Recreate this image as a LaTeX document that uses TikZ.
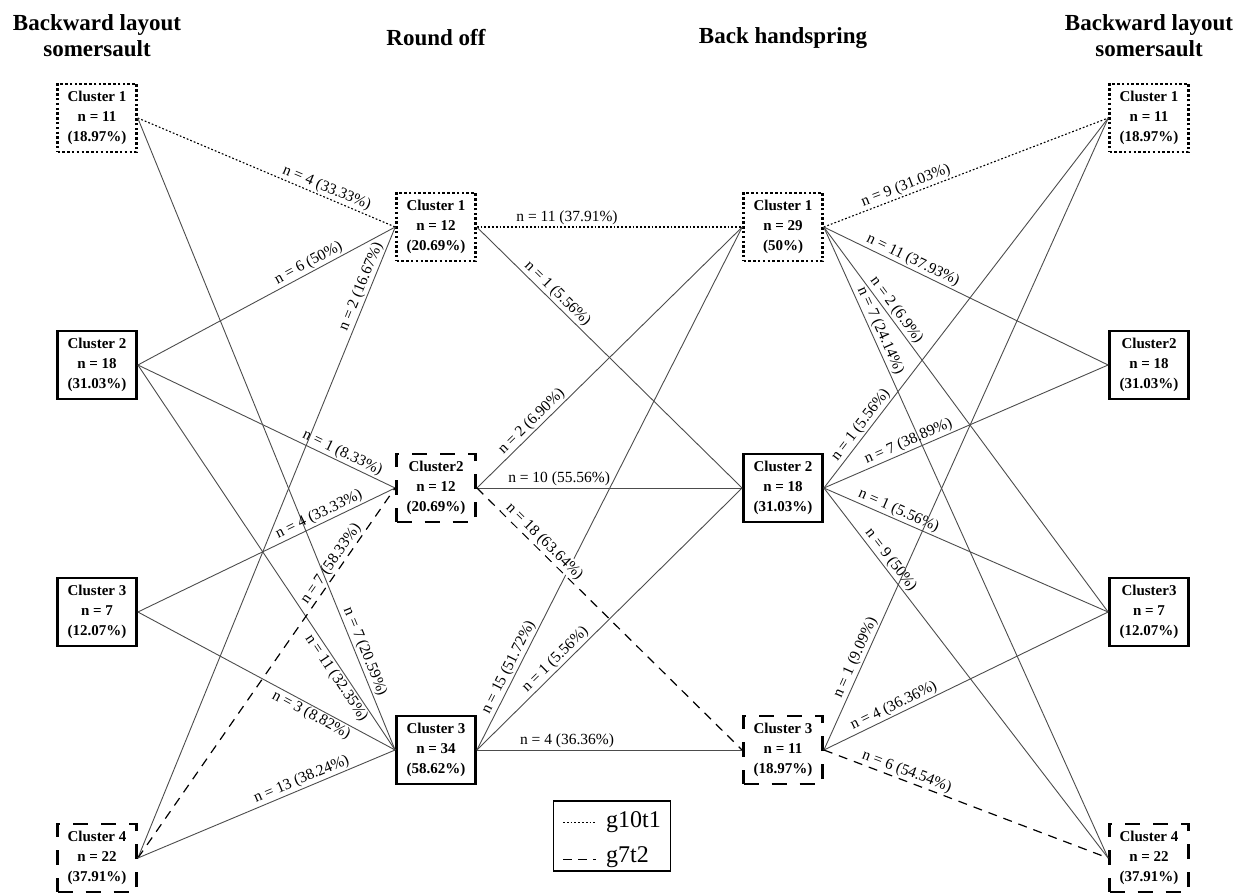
\documentclass[tikz,border=0pt]{standalone}
\usepackage{fontspec}
\setmainfont{Liberation Serif}
\usepackage{tikz}

\begin{document}
\begin{tikzpicture}[x=1pt,y=-1pt,
    clus/.style={draw,line width=2.8pt,minimum width=79pt,minimum height=68pt,inner sep=0pt,align=center,
        font=\fontsize{15}{20}\selectfont\bfseries},
    dotbox/.style={clus,line width=2.5pt,dash pattern=on 2.5pt off 2.3pt},
    dashbox/.style={clus,dash pattern=on 15pt off 13pt},
    link/.style={draw=black!70,line width=0.9pt},
    dotlink/.style={draw=black,line width=1.1pt,dash pattern=on 1.8pt off 2pt},
    dashlink/.style={draw=black,line width=1.2pt,dash pattern=on 9pt off 7pt},
    lbl/.style={sloped,above,inner sep=1.5pt,font=\fontsize{15.5}{18}\selectfont},
    lblb/.style={lbl,below},
    head/.style={align=center,font=\fontsize{23}{26}\selectfont\bfseries}]
    \useasboundingbox (0,0) rectangle (1238,893);

    \node[head] (hA) at (97,36) {Backward layout\\somersault};
    \node[head] (hB) at (436,38) {Round off};
    \node[head] (hC) at (783,38) {Back handspring};
    \node[head] (hD) at (1149,36) {Backward layout\\somersault};

    \node[dotbox] (a1) at (97,118) {Cluster 1\\n = 11\\(18.97\%)};
    \node[clus] (a2) at (97,365) {Cluster 2\\n = 18\\(31.03\%)};
    \node[clus] (a3) at (97,612) {Cluster 3\\n = 7\\(12.07\%)};
    \node[dashbox] (a4) at (97,858) {Cluster 4\\n = 22\\(37.91\%)};

    \node[dotbox] (b1) at (436,227) {Cluster 1\\n = 12\\(20.69\%)};
    \node[dashbox] (b2) at (436,488) {Cluster2\\n = 12\\(20.69\%)};
    \node[clus] (b3) at (436,750) {Cluster 3\\n = 34\\(58.62\%)};

    \node[dotbox] (c1) at (783,227) {Cluster 1\\n = 29\\(50\%)};
    \node[clus] (c2) at (783,488) {Cluster 2\\n = 18\\(31.03\%)};
    \node[dashbox] (c3) at (783,750) {Cluster 3\\n = 11\\(18.97\%)};

    \node[dotbox] (d1) at (1149,118) {Cluster 1\\n = 11\\(18.97\%)};
    \node[clus] (d2) at (1149,365) {Cluster2\\n = 18\\(31.03\%)};
    \node[clus] (d3) at (1149,612) {Cluster3\\n = 7\\(12.07\%)};
    \node[dashbox] (d4) at (1149,858) {Cluster 4\\n = 22\\(37.91\%)};

    \draw[dotlink] (a1.east) -- node[lbl,pos=0.72] {n = 4 (33.33\%)} (b1.west);
    \draw[link] (a1.east) -- node[lbl,pos=0.85] {n = 7 (20.59\%)} (b3.west);
    \draw[link] (a2.east) -- node[lbl,pos=0.68] {n = 6 (50\%)} (b1.west);
    \draw[link] (a2.east) -- node[lbl,pos=0.78] {n = 1 (8.33\%)} (b2.west);
    \draw[link] (a2.east) -- node[lblb,pos=0.80] {n = 11 (32.35\%)} (b3.west);
    \draw[link] (a3.east) -- node[lbl,pos=0.72] {n = 4 (33.33\%)} (b2.west);
    \draw[link] (a3.east) -- node[lblb,pos=0.69] {n = 3 (8.82\%)} (b3.west);
    \draw[link] (a4.east) -- node[lbl,pos=0.90] {n = 2 (16.67\%)} (b1.west);
    \draw[dashlink] (a4.east) -- node[lbl,pos=0.78] {n = 7 (58.33\%)} (b2.west);
    \draw[link] (a4.east) -- node[lbl,pos=0.65] {n = 13 (38.24\%)} (b3.west);

    \draw[link] (b3.east) -- node[lbl,pos=0.15] {n = 15 (51.72\%)} (c1.west);
    \draw[dotlink] (b1.east) -- node[lbl,pos=0.34] {n = 11 (37.91\%)} (c1.west);
    \draw[link] (b1.east) -- node[lbl,pos=0.28] {n = 1 (5.56\%)} (c2.west);
    \draw[link] (b2.east) -- node[lbl,pos=0.23] {n = 2 (6.90\%)} (c1.west);
    \draw[link] (b2.east) -- node[lbl,pos=0.31] {n = 10 (55.56\%)} (c2.west);
    \draw[dashlink] (b2.east) -- node[lbl,pos=0.23,fill=white] {n = 18 (63.64\%)} (c3.west);
    \draw[link] (b3.east) -- node[lbl,pos=0.32] {n = 1 (5.56\%)} (c2.west);
    \draw[link] (b3.east) -- node[lbl,pos=0.34] {n = 4 (36.36\%)} (c3.west);

    \draw[dotlink] (c1.east) -- node[lbl,pos=0.30] {n = 9 (31.03\%)} (d1.west);
    \draw[link] (c1.east) -- node[lbl,pos=0.30] {n = 11 (37.93\%)} (d2.west);
    \draw[link] (c1.east) -- node[lbl,pos=0.23] {n = 2 (6.9\%)} (d3.west);
    \draw[link] (c1.east) -- node[lbl,pos=0.17] {n = 7 (24.14\%)} (d4.west);
    \draw[link] (c2.east) -- node[lbl,pos=0.155] {n = 1 (5.56\%)} (d1.west);
    \draw[link] (c2.east) -- node[lbl,pos=0.31] {n = 7 (38.89\%)} (d2.west);
    \draw[link] (c2.east) -- node[lbl,pos=0.25] {n = 1 (5.56\%)} (d3.west);
    \draw[link] (c2.east) -- node[lbl,pos=0.21] {n = 9 (50\%)} (d4.west);
    \draw[link] (c3.east) -- node[lbl,pos=0.14] {n = 1 (9.09\%)} (d1.west);
    \draw[link] (c3.east) -- node[lbl,pos=0.26] {n = 4 (36.36\%)} (d3.west);
    \draw[dashlink] (c3.east) -- node[lbl,pos=0.28] {n = 6 (54.54\%)} (d4.west);

    \node[draw,line width=1.3pt,minimum width=117pt,minimum height=70pt] (legend) at (612,836) {};
    \coordinate (l1a) at (563,822);
    \coordinate (l1b) at (596,822);
    \coordinate (l2a) at (563,859);
    \coordinate (l2b) at (596,859);
    \draw[dotlink,line width=0.9pt] (l1a) -- (l1b);
    \draw[dashlink,line width=0.9pt,dash pattern=on 9pt off 6pt] (l2a) -- (l2b);
    \node[anchor=west,inner sep=0pt,font=\fontsize{24}{28}\selectfont] (g1) at (606,822) {g10t1};
    \node[anchor=west,inner sep=0pt,font=\fontsize{24}{28}\selectfont] (g2) at (606,857) {g7t2};
\end{tikzpicture}
\end{document}
